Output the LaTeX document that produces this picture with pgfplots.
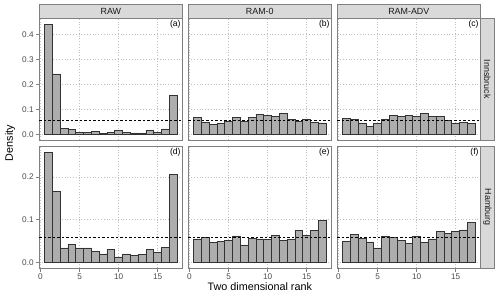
\documentclass[border=0pt]{standalone}
\usepackage{pgfplots}
\pgfplotsset{compat=1.18}
\usepackage{fontspec}
\setmainfont{Liberation Sans}
\definecolor{bordergray}{gray}{0.5}
\definecolor{stripfill}{gray}{0.85}
\definecolor{gridgray}{gray}{0.75}
\definecolor{barfill}{gray}{0.68}
\definecolor{bardraw}{gray}{0.2}
\definecolor{ticklab}{gray}{0.3}
\tikzset{plab/.style={anchor=north east, font=\fontsize{8.6}{10}\selectfont, inner sep=1.5pt}}
\pgfplotsset{
  panel/.style={scale only axis, width=143pt, height=121.5pt, anchor=south west,
    xmin=-0.15, xmax=18.15, clip=false,
    axis line style={bordergray, line width=0.6pt},
    grid=major, major grid style={gridgray, dash pattern=on 0.8pt off 2pt, line width=0.5pt},
    xtick={0,5,10,15}, tick align=outside, xtick pos=bottom, ytick pos=left,
    tick style={bordergray, line width=0.5pt}, major tick length=3.5pt,
    ticklabel style={font=\fontsize{8.2}{9.5}\selectfont, text=ticklab},
    xticklabel style={inner sep=2.5pt},
    yticklabel style={inner sep=2pt},
    /pgf/number format/assume math mode=true,
    yticklabel style={/pgf/number format/.cd, fixed, fixed zerofill, precision=1},
  },
  toprow/.style={ymin=-0.0222, ymax=0.4652, ytick={0,0.1,0.2,0.3,0.4}, xticklabels={}, x tick style={draw=none}},
  botrow/.style={ymin=-0.0129, ymax=0.2709, ytick={0,0.1,0.2}},
  inner/.style={yticklabels={}, y tick style={draw=none}},
  bars/.style={ybar interval, fill=barfill, draw=bardraw, line width=0.6pt},
  ref/.style={black, dash pattern=on 2.5pt off 2pt, line width=0.5pt},
}
\begin{document}
\begin{tikzpicture}
\useasboundingbox (0pt,0pt) rectangle (500pt,297pt);
% (a)
\begin{axis}[panel, toprow, name=a, at={(39.3pt,157pt)}]
\addplot[bars] coordinates {(0.5,0.443) (1.5,0.243) (2.5,0.024) (3.5,0.019) (4.5,0.009) (5.5,0.008) (6.5,0.012) (7.5,0.005) (8.5,0.008) (9.5,0.015) (10.5,0.009) (11.5,0.006) (12.5,0.005) (13.5,0.017) (14.5,0.008) (15.5,0.022) (16.5,0.158) (17.5,0.158)};
\addplot[ref] coordinates {(-0.15,0.0588) (18.15,0.0588)};
\node[plab] at (rel axis cs:1,1) {(a)};
\end{axis}
% (b)
\begin{axis}[panel, toprow, inner, name=b, at={(188.3pt,157pt)}]
\addplot[bars] coordinates {(0.5,0.069) (1.5,0.049) (2.5,0.040) (3.5,0.045) (4.5,0.053) (5.5,0.069) (6.5,0.053) (7.5,0.069) (8.5,0.081) (9.5,0.075) (10.5,0.072) (11.5,0.086) (12.5,0.060) (13.5,0.053) (14.5,0.060) (15.5,0.049) (16.5,0.046) (17.5,0.046)};
\addplot[ref] coordinates {(-0.15,0.0588) (18.15,0.0588)};
\node[plab] at (rel axis cs:1,1) {(b)};
\end{axis}
% (c)
\begin{axis}[panel, toprow, inner, name=c, at={(337.3pt,157pt)}]
\addplot[bars] coordinates {(0.5,0.066) (1.5,0.060) (2.5,0.046) (3.5,0.033) (4.5,0.044) (5.5,0.062) (6.5,0.078) (7.5,0.073) (8.5,0.077) (9.5,0.072) (10.5,0.085) (11.5,0.073) (12.5,0.073) (13.5,0.058) (14.5,0.044) (15.5,0.049) (16.5,0.044) (17.5,0.044)};
\addplot[ref] coordinates {(-0.15,0.0588) (18.15,0.0588)};
\node[plab] at (rel axis cs:1,1) {(c)};
\end{axis}
% (d)
\begin{axis}[panel, botrow, name=d, at={(39.3pt,29pt)}]
\addplot[bars] coordinates {(0.5,0.258) (1.5,0.166) (2.5,0.034) (3.5,0.043) (4.5,0.034) (5.5,0.034) (6.5,0.025) (7.5,0.020) (8.5,0.030) (9.5,0.013) (10.5,0.020) (11.5,0.016) (12.5,0.018) (13.5,0.030) (14.5,0.024) (15.5,0.036) (16.5,0.205) (17.5,0.205)};
\addplot[ref] coordinates {(-0.15,0.0588) (18.15,0.0588)};
\node[plab] at (rel axis cs:1,1) {(d)};
\end{axis}
% (e)
\begin{axis}[panel, botrow, inner, name=e, at={(188.3pt,29pt)}]
\addplot[bars] coordinates {(0.5,0.055) (1.5,0.059) (2.5,0.047) (3.5,0.050) (4.5,0.052) (5.5,0.062) (6.5,0.041) (7.5,0.057) (8.5,0.055) (9.5,0.053) (10.5,0.064) (11.5,0.052) (12.5,0.053) (13.5,0.074) (14.5,0.064) (15.5,0.074) (16.5,0.098) (17.5,0.098)};
\addplot[ref] coordinates {(-0.15,0.0588) (18.15,0.0588)};
\node[plab] at (rel axis cs:1,1) {(e)};
\end{axis}
% (f)
\begin{axis}[panel, botrow, inner, name=f, at={(337.3pt,29pt)}]
\addplot[bars] coordinates {(0.5,0.049) (1.5,0.065) (2.5,0.056) (3.5,0.048) (4.5,0.034) (5.5,0.062) (6.5,0.058) (7.5,0.052) (8.5,0.045) (9.5,0.061) (10.5,0.046) (11.5,0.055) (12.5,0.072) (13.5,0.067) (14.5,0.072) (15.5,0.076) (16.5,0.094) (17.5,0.094)};
\addplot[ref] coordinates {(-0.15,0.0588) (18.15,0.0588)};
\node[plab] at (rel axis cs:1,1) {(f)};
\end{axis}
% strips
\foreach \p/\t in {a/RAW, b/RAM-0, c/RAM-ADV}{
  \draw[bordergray, fill=stripfill, line width=0.6pt] (\p.north west) rectangle ([yshift=14.2pt]\p.north east);
  \node[font=\fontsize{8.9}{10}\selectfont, text={black!90}] at ([yshift=7.1pt]\p.north) {\t};
}
\foreach \p/\t in {c/Innsbruck, f/Hamburg}{
  \draw[bordergray, fill=stripfill, line width=0.6pt] (\p.north east) rectangle ([xshift=14.2pt]\p.south east);
  \node[rotate=-90, font=\fontsize{8.9}{10}\selectfont, text={black!90}] at ([xshift=7.1pt]\p.east) {\t};
}
\node[rotate=90, font=\fontsize{10.8}{12}\selectfont] at (10pt,154pt) {Density};
\node[font=\fontsize{10.8}{12}\selectfont] at (259.8pt,10pt) {Two dimensional rank};
\end{tikzpicture}
\end{document}
